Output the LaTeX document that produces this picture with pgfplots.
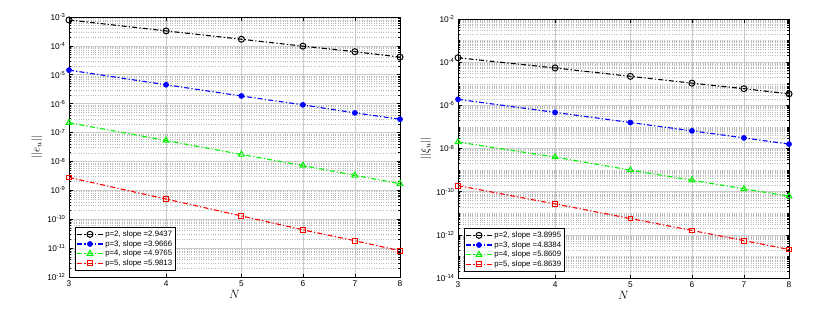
\documentclass[border=0pt]{standalone}
\usepackage{pgfplots}
\pgfplotsset{compat=1.18}
\usepackage{fontspec}
\setmainfont{Liberation Sans}
\definecolor{mgreen}{rgb}{0,0.95,0}
\gdef\minorL{}
\foreach \e in {-12,...,-4}{\foreach \m in {2,...,9}{\xdef\minorL{\minorL\m e\e,}}}
\gdef\minorR{}
\foreach \e in {-14,...,-3}{\foreach \m in {1,...,9}{\xdef\minorR{\minorR\m e\e,}}}
\pgfplotsset{
  log number format basis/.code 2 args={#1\textsuperscript{\pgfmathprintnumber[assume math mode=true]{#2}}},
  legend image code/.code={\draw[mark repeat=2,mark phase=2,#1] plot coordinates {(0cm,0cm) (0.45cm,0cm) (0.9cm,0cm)};},
  every axis/.append style={
    tick label style={font=\fontsize{8.3}{9}\selectfont},
    grid=both,
    major grid style={gray!40, line width=0.6pt},
    minor grid style={gray!55, dotted, line width=0.5pt},
    axis line style={line width=0.9pt},
    tick style={black, line width=0.6pt},
    major tick length=3.5pt, minor tick length=2pt,
    xlabel style={font=\fontsize{12}{13}\selectfont, yshift=3pt},
    ylabel style={font=\fontsize{11}{12}\selectfont, yshift=-2pt},
    legend cell align=left,
    legend style={font=\fontsize{7.8}{8.5}\selectfont, at={(0.018,0.025)}, anchor=south west,
      draw=black, line width=0.9pt, inner sep=1.2pt, row sep=-1.5pt},
  },
}
\tikzset{sdd/.style={dash pattern=on 5pt off 2.2pt on 1.2pt off 2.2pt, line width=1.1pt}}
\begin{document}
\begin{tikzpicture}[x=1pt,y=1pt]
\path[use as bounding box] (0,0) rectangle (834,322);
\begin{axis}[xmode=log, ymode=log, log basis y=10, scale only axis, width=331pt, height=260pt,
  at={(69pt,45pt)}, anchor=south west,
  xmin=3, xmax=8, xtick={3,4,5,6,7,8}, xticklabels={3,4,5,6,7,8},
  ymin=1e-12, ymax=1e-3,
  ytick={1e-12,1e-11,1e-10,1e-9,1e-8,1e-7,1e-6,1e-5,1e-4,1e-3},
  minor ytick/.expanded={\minorL 1e-3},
  xlabel={$N$}, ylabel={$||e_u||$}]
\addplot[black, sdd, mark=o, mark size=3pt, mark options={solid, line width=1pt}] coordinates {(3,7.9e-4) (4,3.3e-4) (5,1.7e-4) (6,9.8e-5) (7,6.3e-5) (8,4.1e-5)};
\addlegendentry{p=2, slope =2.9437}
\addplot[blue, sdd, mark=*, mark size=2.3pt, mark options={solid}] coordinates {(3,1.45e-5) (4,4.5e-6) (5,1.85e-6) (6,9.1e-7) (7,4.8e-7) (8,2.9e-7)};
\addlegendentry{p=3, slope =3.9666}
\addplot[mgreen, sdd, mark=triangle, mark size=3.3pt, mark options={solid, line width=1pt}] coordinates {(3,2.2e-7) (4,5.3e-8) (5,1.75e-8) (6,7.2e-9) (7,3.3e-9) (8,1.7e-9)};
\addlegendentry{p=4, slope =4.9765}
\addplot[red, sdd, mark=square, mark size=2.4pt, mark options={solid, line width=1pt}] coordinates {(3,2.8e-9) (4,5.0e-10) (5,1.3e-10) (6,4.3e-11) (7,1.8e-11) (8,8.1e-12)};
\addlegendentry{p=5, slope =5.9813}
\end{axis}
\begin{axis}[xmode=log, ymode=log, log basis y=10, scale only axis, width=331pt, height=259pt,
  at={(458pt,44pt)}, anchor=south west,
  xmin=3, xmax=8, xtick={3,4,5,6,7,8}, xticklabels={3,4,5,6,7,8},
  ymin=1e-14, ymax=1e-2,
  ytick={1e-14,1e-12,1e-10,1e-8,1e-6,1e-4,1e-2},
  minor ytick/.expanded={\minorR 1e-2},
  xlabel={$N$}, ylabel={$||\xi_u||$}]
\addplot[black, sdd, mark=o, mark size=3pt, mark options={solid, line width=1pt}] coordinates {(3,1.6e-4) (4,5.4e-5) (5,2.2e-5) (6,1.07e-5) (7,5.9e-6) (8,3.4e-6)};
\addlegendentry{p=2, slope =3.8995}
\addplot[blue, sdd, mark=*, mark size=2.3pt, mark options={solid}] coordinates {(3,1.9e-6) (4,4.7e-7) (5,1.6e-7) (6,6.6e-8) (7,3.1e-8) (8,1.6e-8)};
\addlegendentry{p=3, slope =4.8384}
\addplot[mgreen, sdd, mark=triangle, mark size=3.3pt, mark options={solid, line width=1pt}] coordinates {(3,2.0e-8) (4,4.0e-9) (5,1.0e-9) (6,3.4e-10) (7,1.35e-10) (8,6.2e-11)};
\addlegendentry{p=4, slope =5.8609}
\addplot[red, sdd, mark=square, mark size=2.4pt, mark options={solid, line width=1pt}] coordinates {(3,1.9e-10) (4,2.7e-11) (5,5.7e-12) (6,1.6e-12) (7,5.4e-13) (8,2.1e-13)};
\addlegendentry{p=5, slope =6.8639}
\end{axis}
\end{tikzpicture}
\end{document}
